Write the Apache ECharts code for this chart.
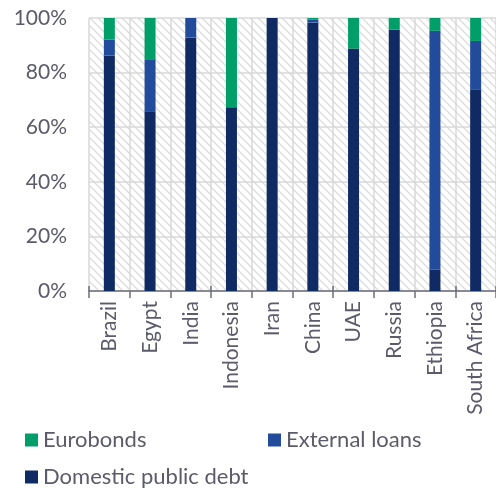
<!DOCTYPE html>
<html>
<head>
<meta charset="utf-8">
<script src="https://cdn.jsdelivr.net/npm/echarts@6/dist/echarts.min.js"></script>
<style>
  html, body { margin: 0; padding: 0; background: #fff; }
  #chart { width: 496px; height: 488px; }
</style>
</head>
<body>
<div id="chart"></div>
<script>
// Country categories along the x axis
const countries = ['Brazil', 'Egypt', 'India', 'Indonesia', 'Iran', 'China', 'UAE', 'Russia', 'Ethiopia', 'South Africa'];

// Share of each debt type (percent), stacked bottom to top
const domesticPublicDebt = [86.2, 65.8, 92.8, 67.3, 100, 98.3, 88.8, 95.7, 7.8, 73.9];
const externalLoans      = [5.9, 19.1, 7.2, 0, 0, 1.2, 0, 0, 87.5, 17.7];
const eurobonds          = [7.9, 15.1, 0, 32.7, 0, 0.5, 11.2, 4.3, 4.7, 8.4];

// Y axis tick labels
const yTicks = [0, 20, 40, 60, 80, 100];

const FONT = 'Lato';
const TEXT = '#5b5b69';
const GRID_LINE = '#d9d9d9';

// Diagonal hatch tile used as the plot background
function hatchTile() {
  const s = 8;
  const c = document.createElement('canvas');
  c.width = s; c.height = s;
  const g = c.getContext('2d');
  g.fillStyle = '#ffffff';
  g.fillRect(0, 0, s, s);
  g.strokeStyle = '#dcdcdc';
  g.lineWidth = 1.3;
  g.beginPath();
  g.moveTo(-1, -1); g.lineTo(s + 1, s + 1);
  g.moveTo(-1, s - 1); g.lineTo(1, s + 1);
  g.moveTo(s - 1, -1); g.lineTo(s + 1, 1);
  g.stroke();
  return c;
}

const chart = echarts.init(document.getElementById('chart'));

const legendBase = {
  padding: 0,
  itemWidth: 13,
  itemHeight: 13,
  itemGap: 6,
  icon: 'rect',
  textStyle: { fontFamily: FONT, fontSize: 22, color: TEXT }
};

chart.setOption({
  animation: false,
  grid: {
    left: 89, top: 18, right: 0, bottom: 197,
    show: true,
    backgroundColor: { image: hatchTile(), repeat: 'repeat' },
    borderWidth: 0
  },
  legend: [
    Object.assign({ data: ['Eurobonds'], left: 25, top: 429 }, legendBase),
    Object.assign({ data: ['External loans'], left: 268, top: 429 }, legendBase),
    Object.assign({ data: ['Domestic public debt'], left: 25, top: 466 }, legendBase)
  ],
  xAxis: [
    {
      type: 'category',
      data: countries,
      axisLine: { lineStyle: { color: '#6e6e7c', width: 1.5 } },
      axisTick: { show: true, length: 7, lineStyle: { color: '#6e6e7c', width: 1.5 } },
      axisLabel: { rotate: 90, interval: 0, margin: 10, fontFamily: FONT, fontSize: 21, color: TEXT },
      splitLine: { show: true, interval: 0, lineStyle: { color: GRID_LINE, width: 1.5 } }
    },
    {
      type: 'category',
      data: countries,
      position: 'bottom',
      axisLine: { show: false },
      axisTick: { show: true, inside: true, length: 5, lineStyle: { color: '#6e6e7c', width: 1.5 } },
      axisLabel: { show: false },
      splitLine: { show: false }
    }
  ],
  yAxis: {
    type: 'value',
    min: yTicks[0],
    max: yTicks[yTicks.length - 1],
    interval: 20,
    axisLine: { show: false },
    axisTick: { show: false },
    axisLabel: { formatter: '{value}%', margin: 22, fontFamily: FONT, fontSize: 21, color: TEXT },
    splitLine: { show: true, lineStyle: { color: GRID_LINE, width: 1.5 } }
  },
  series: [
    { name: 'Domestic public debt', type: 'bar', stack: 'debt', barWidth: 11, data: domesticPublicDebt, itemStyle: { color: '#102a64' } },
    { name: 'External loans', type: 'bar', stack: 'debt', barWidth: 11, data: externalLoans, itemStyle: { color: '#224b9c' } },
    { name: 'Eurobonds', type: 'bar', stack: 'debt', barWidth: 11, data: eurobonds, itemStyle: { color: '#009e68' } }
  ]
});
</script>
</body>
</html>
